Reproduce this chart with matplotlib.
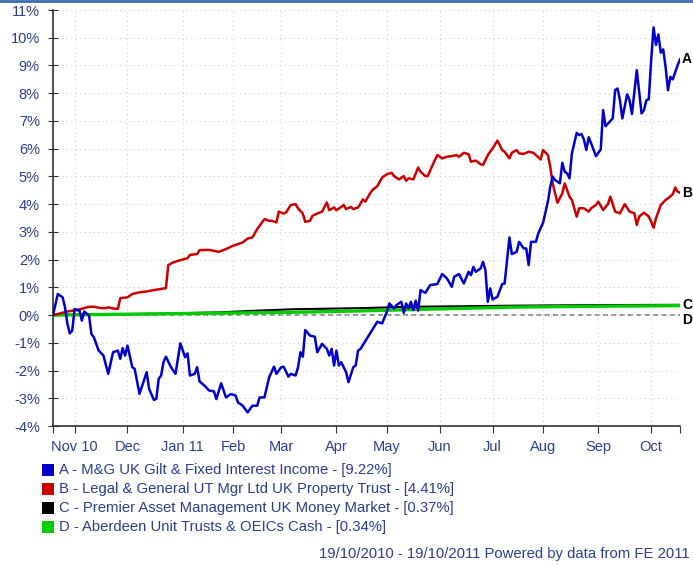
import numpy as np
import matplotlib
matplotlib.use("Agg")
from matplotlib import pyplot as plt
from matplotlib.lines import Line2D
from matplotlib.patches import Rectangle

plt.rcParams['font.family'] = ['Liberation Sans', 'DejaVu Sans']

# x values are trading days counted from 19/10/2010
start = '2010-10-19'
end = '2011-10-19'
month_starts = ['2010-11-01', '2010-12-01', '2011-01-01', '2011-02-01', '2011-03-01', '2011-04-01',
                '2011-05-01', '2011-06-01', '2011-07-01', '2011-08-01', '2011-09-01', '2011-10-01']
month_labels = ['Nov 10', 'Dec', 'Jan 11', 'Feb', 'Mar', 'Apr', 'May', 'Jun', 'Jul', 'Aug', 'Sep', 'Oct']

# A - M&G UK Gilt & Fixed Interest Income
a_day = [0, 2, 4, 5, 6, 7, 8, 9, 11, 12, 13, 15, 16, 17, 19, 21, 23, 25, 27, 28, 29, 30, 31, 33, 34, 36,
         39, 40, 42, 43, 44, 45, 46, 47, 49, 51, 53, 55, 56, 57, 59, 60, 61, 63, 65, 67, 68, 70, 72, 74,
         76, 77, 79, 81, 83, 85, 86, 88, 90, 92, 93, 95, 96, 98, 99, 101, 102, 103, 104, 105, 107, 109,
         110, 112, 114, 115, 116, 117, 118, 119, 120, 122, 123, 125, 126, 127, 128, 133, 135, 137, 139,
         140, 142, 143, 145, 146, 147, 148, 149, 150, 151, 152, 153, 155, 157, 160, 162, 164, 166, 167,
         169, 171, 173, 174, 175, 176, 178, 179, 180, 181, 182, 183, 185, 187, 188, 190, 191, 193, 194,
         196, 197, 198, 199, 201, 202, 204, 206, 207, 208, 209, 210, 211, 212, 213, 214, 215, 216, 218,
         219, 220, 221, 222, 223, 225, 226, 228, 229, 230, 233, 234, 235, 236, 237, 239, 240, 241, 243,
         244, 245, 246, 247, 248, 249, 250, 251, 252, 253, 254, 255, 256, 257, 258, 260, 261]
a_val = [0, 0.76, 0.64, 0.28, -0.32, -0.66, -0.56, 0.22, 0.16, -0.2, 0.13, -0.02, -0.68, -0.8, -1.28,
         -1.46, -2.12, -1.34, -1.28, -1.58, -1.19, -1.46, -1.1, -1.88, -1.94, -2.84, -2.06, -2.66, -3.06,
         -3.02, -2.3, -2.18, -1.7, -1.5, -1.86, -2.12, -1.02, -1.52, -1.38, -2.18, -2.12, -1.88, -2.39,
         -2.54, -2.72, -2.75, -3.03, -2.46, -2.97, -2.85, -2.9, -3.15, -3.27, -3.51, -3.27, -3.27, -2.97,
         -2.97, -2.24, -1.86, -2.12, -1.88, -1.86, -2.22, -2.12, -2.18, -1.88, -1.34, -1.5, -0.54, -0.74,
         -0.78, -1.34, -1.04, -1.22, -1.46, -1.22, -1.82, -1.28, -1.82, -1.7, -2.06, -2.42, -1.88, -1.82,
         -1.28, -1.22, -0.52, -0.24, -0.3, 0.12, 0.42, 0.24, 0.36, 0.48, 0.08, 0.42, 0.24, 0.48, 0.18,
         0.52, 0.16, 0.9, 0.8, 1.08, 1.12, 1.48, 1.32, 1.02, 1.38, 1.48, 1.14, 1.56, 1.44, 1.74, 1.56,
         1.68, 1.92, 1.62, 0.48, 0.96, 0.56, 0.66, 1.12, 1.14, 2.8, 2.2, 2.28, 2.64, 2.4, 2.4, 1.8, 2.64,
         2.64, 2.94, 3.33, 4.09, 4.63, 4.99, 4.87, 4.81, 4.75, 5.49, 5.17, 5.11, 4.93, 5.83, 6.57, 6.49,
         6.53, 6.33, 5.95, 6.41, 5.97, 5.73, 5.97, 7.39, 6.81, 7.09, 8.11, 8.17, 7.75, 7.09, 7.96, 7.75,
         7.25, 8.83, 8.05, 7.27, 7.39, 7.75, 7.78, 9.19, 10.37, 9.74, 10.12, 9.46, 9.58, 8.95, 8.11, 8.59,
         8.5, 9.01, 9.22]

# B - Legal & General UT Mgr Ltd UK Property Trust
b_day = [0, 3, 6, 10, 13, 15, 17, 20, 22, 23, 25, 27, 28, 31, 33, 36, 39, 42, 45, 47, 48, 50, 53, 56,
         57, 60, 61, 65, 69, 72, 75, 79, 81, 83, 85, 88, 90, 91, 93, 94, 96, 97, 99, 101, 102, 104, 105,
         107, 108, 110, 112, 113, 114, 115, 117, 118, 120, 121, 122, 124, 125, 127, 128, 129, 130, 132,
         133, 135, 137, 139, 141, 142, 144, 146, 147, 148, 150, 152, 153, 155, 156, 158, 160, 162, 164,
         166, 168, 169, 171, 173, 174, 176, 178, 179, 181, 183, 185, 187, 188, 190, 191, 193, 194, 196,
         198, 200, 201, 203, 204, 206, 207, 208, 209, 210, 212, 213, 215, 216, 218, 219, 221, 223, 224,
         226, 227, 229, 231, 232, 234, 236, 238, 240, 242, 243, 244, 246, 248, 249, 250, 251, 253, 255,
         256, 258, 259, 260, 261]
b_val = [0, 0.06, 0.13, 0.18, 0.25, 0.3, 0.3, 0.25, 0.25, 0.28, 0.24, 0.22, 0.61, 0.64, 0.76, 0.82,
         0.85, 0.9, 0.94, 0.97, 1.8, 1.9, 1.98, 2.05, 2.17, 2.2, 2.34, 2.35, 2.28, 2.38, 2.5, 2.62, 2.76,
         2.8, 3.1, 3.46, 3.4, 3.4, 3.34, 3.73, 3.66, 3.7, 3.97, 4.0, 3.85, 3.66, 3.36, 3.4, 3.58, 3.66,
         3.73, 3.9, 4.06, 3.78, 3.88, 3.78, 3.9, 3.97, 3.82, 3.9, 3.82, 3.88, 4.02, 4.17, 4.09, 4.39,
         4.51, 4.65, 4.96, 5.08, 5.13, 5.01, 4.89, 5.01, 4.84, 4.93, 4.89, 5.32, 5.17, 5.01, 5.01, 5.41,
         5.77, 5.65, 5.71, 5.73, 5.77, 5.71, 5.85, 5.8, 5.53, 5.57, 5.44, 5.41, 5.77, 6.01, 6.29, 5.95,
         5.89, 5.65, 5.85, 5.95, 5.83, 5.81, 5.89, 5.85, 5.77, 5.61, 5.95, 5.77, 5.35, 4.75, 4.39, 4.05,
         4.39, 4.75, 4.27, 4.15, 3.55, 3.85, 3.85, 3.73, 3.85, 3.97, 4.09, 3.79, 4.0, 4.27, 3.73, 3.67,
         4.0, 3.73, 3.67, 3.25, 3.55, 3.69, 3.55, 3.37, 3.15, 3.49, 3.97, 4.15, 4.21, 4.36, 4.6, 4.45,
         4.41]

# C - Premier Asset Management UK Money Market
c_day = [0, 20, 45, 70, 85, 100, 128, 150, 194, 230, 261]
c_val = [0, 0.02, 0.05, 0.1, 0.16, 0.21, 0.25, 0.3, 0.34, 0.36, 0.37]

# D - Aberdeen Unit Trusts & OEICs Cash
d_day = [0, 30, 60, 100, 128, 150, 194, 230, 261]
d_val = [0, 0.03, 0.06, 0.1, 0.15, 0.2, 0.29, 0.32, 0.34]

names = ['A - M&G UK Gilt & Fixed Interest Income - [9.22%]',
         'B - Legal & General UT Mgr Ltd UK Property Trust - [4.41%]',
         'C - Premier Asset Management UK Money Market - [0.37%]',
         'D - Aberdeen Unit Trusts & OEICs Cash - [0.34%]']
letters = ['A', 'B', 'C', 'D']
colors = ['#0000cc', '#cc0000', '#000000', '#00cc00']

txt_col = '#2b3f8c'
W, H = 693, 565

fig = plt.figure(figsize=(W / 100, H / 100), dpi=100)
ax = fig.add_axes([53 / W, 1 - 426 / H, (680 - 53) / W, (426 - 10) / H])

month_pos = [np.busday_count(start, m) for m in month_starts]
n_days = np.busday_count(start, end)

ax.axhline(0, color='#808080', lw=1.2, ls=(0, (3, 2)), zorder=1)
ax.plot(d_day, d_val, color=colors[3], lw=2.4, zorder=3)
ax.plot(c_day, c_val, color=colors[2], lw=1.5, zorder=2)
ax.plot(b_day, b_val, color=colors[1], lw=1.8, zorder=4)
ax.plot(a_day, a_val, color=colors[0], lw=1.8, zorder=5)

# end labels
ends = [(a_day[-1], a_val[-1], 0), (b_day[-1], b_val[-1], 0), (c_day[-1], c_val[-1], 0), (d_day[-1], d_val[-1], -10)]
for (x, y, dy), lab in zip(ends, letters):
    ax.annotate(lab, xy=(x, y), xytext=(1.5, dy), textcoords='offset points', ha='left', va='center',
                fontsize=10, fontweight='bold', color='black', annotation_clip=False)

ax.set_xlim(0, n_days)
ax.set_ylim(-4, 11)
ax.set_xticks([0] + month_pos + [n_days])
ax.set_xticklabels([''] + month_labels + [''])
ax.set_yticks(np.arange(-4, 12, 1))
ax.set_yticklabels(['%d%%' % v for v in range(-4, 12)])
ax.tick_params(axis='both', colors='#333333', labelcolor=txt_col, labelsize=10.5)
ax.tick_params(axis='y', direction='inout', length=7, pad=6)
ax.tick_params(axis='x', direction='out', length=5, pad=5)
ax.grid(True, color='#d0d0d0', ls=(0, (1, 3)), lw=0.8)
for s in ['top', 'right']:
    ax.spines[s].set_visible(False)
for s in ['left', 'bottom']:
    ax.spines[s].set_color('#333333')
    ax.spines[s].set_linewidth(1.2)

# legend
for i, (nm, c) in enumerate(zip(names, colors)):
    yc = 470 + i * 19
    fig.patches.append(Rectangle((42 / W, 1 - (yc + 6) / H), 12 / W, 12 / H, facecolor=c,
                                 edgecolor='none', transform=fig.transFigure))
    fig.text(59 / W, 1 - yc / H, nm, ha='left', va='center', fontsize=10.7, color=txt_col)

fig.text(690 / W, 1 - 554 / H, '19/10/2010 - 19/10/2011 Powered by data from FE 2011',
         ha='right', va='center', fontsize=10.7, color=txt_col)

fig.add_artist(Line2D([0, 1], [1 - 1 / H, 1 - 1 / H], color='#3a6ea8', lw=2, transform=fig.transFigure))

fig.savefig('out.png', dpi=100)
